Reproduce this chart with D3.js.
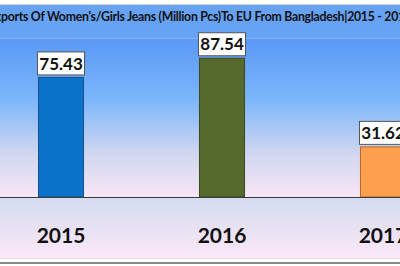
<!DOCTYPE html>
<html>
<head>
<meta charset="utf-8">
<script src="https://cdn.jsdelivr.net/npm/d3@7"></script>
<style>
  html, body { margin: 0; padding: 0; background: #fff; }
  svg { display: block; }
</style>
</head>
<body>
<div id="chart"></div>
<script>
// chart data
const years = ["2015", "2016", "2017"];
const values = [75.43, 87.54, 31.62];
const barColors = ["#0a72c8", "#566a2e", "#fca04e"];
const barStrokes = ["#1d4f86", "#3b4820", "#b5682c"];
const titleText = "Exports Of Women's/Girls Jeans (Million Pcs)To EU From Bangladesh|2015 - 2017";

const size = {width: 400, height: 266};
const plot = {top: 38.5, bottom: 197};

const svg = d3.select("#chart").append("svg")
    .attr("width", size.width)
    .attr("height", size.height);

const defs = svg.append("defs");
const gPlot = defs.append("linearGradient")
    .attr("id", "plotGrad").attr("x1", 0).attr("y1", 0).attr("x2", 0).attr("y2", 1);
gPlot.append("stop").attr("offset", "0%").attr("stop-color", "#5a98f6");
gPlot.append("stop").attr("offset", "38%").attr("stop-color", "#7bb6fb");
gPlot.append("stop").attr("offset", "72%").attr("stop-color", "#cfd6f0");
gPlot.append("stop").attr("offset", "100%").attr("stop-color", "#f8e6f6");

const gAxis = defs.append("linearGradient")
    .attr("id", "axisGrad").attr("x1", 0).attr("y1", 0).attr("x2", 0).attr("y2", 1);
gAxis.append("stop").attr("offset", "0%").attr("stop-color", "#d3dbef");
gAxis.append("stop").attr("offset", "100%").attr("stop-color", "#fbe8f7");

// backgrounds
svg.append("line")
    .attr("x1", 0).attr("x2", size.width).attr("y1", 4.5).attr("y2", 4.5)
    .attr("stroke", "#d4d4d4").attr("stroke-width", 1);
svg.append("rect")
    .attr("x", 0).attr("y", 5).attr("width", size.width).attr("height", plot.top - 5)
    .attr("fill", "#66a3f5");
svg.append("rect")
    .attr("x", 0).attr("y", plot.top).attr("width", size.width).attr("height", plot.bottom - plot.top)
    .attr("fill", "url(#plotGrad)");
svg.append("rect")
    .attr("x", 0).attr("y", plot.bottom).attr("width", size.width).attr("height", 258 - plot.bottom)
    .attr("fill", "url(#axisGrad)");
svg.append("line")
    .attr("x1", 0).attr("x2", size.width).attr("y1", 258.5).attr("y2", 258.5)
    .attr("stroke", "#e2e2e2").attr("stroke-width", 1);
svg.append("line")
    .attr("x1", 0).attr("x2", size.width).attr("y1", 263).attr("y2", 263)
    .attr("stroke", "#8a8a8a").attr("stroke-width", 2);

// title
svg.append("text")
    .attr("x", size.width / 2)
    .attr("y", 20.5)
    .attr("text-anchor", "middle")
    .attr("font-family", "Lato, 'Open Sans', sans-serif")
    .attr("font-weight", "bold")
    .attr("font-size", 12.3)
    .attr("fill", "#111")
    .attr("textLength", 424)
    .attr("lengthAdjust", "spacing")
    .text(titleText);

// scales
const x = d3.scaleBand()
    .domain(years)
    .range([-19.5, 463.5])
    .paddingInner(0.714)
    .paddingOuter(0.357);

const y = d3.scaleLinear()
    .domain([0, 100])
    .range([plot.bottom, plot.top]);

const data = years.map((yr, i) => ({year: yr, value: values[i], color: barColors[i], stroke: barStrokes[i]}));

// bars
svg.append("g").selectAll("rect")
    .data(data)
    .join("rect")
    .attr("x", d => x(d.year) + 0.5)
    .attr("y", d => y(d.value))
    .attr("width", x.bandwidth() - 1)
    .attr("height", d => y(0) - y(d.value))
    .attr("fill", d => d.color)
    .attr("stroke", d => d.stroke)
    .attr("stroke-width", 1);

// baseline
svg.append("line")
    .attr("x1", 0).attr("x2", size.width)
    .attr("y1", y(0) + 0.5).attr("y2", y(0) + 0.5)
    .attr("stroke", "#3a3a3a").attr("stroke-width", 1.2);

// value labels
const labels = svg.append("g").selectAll("g")
    .data(data)
    .join("g")
    .attr("transform", d => "translate(" + (x(d.year) + x.bandwidth() / 2) + "," + (y(d.value) - 14) + ")");
labels.append("rect")
    .attr("x", -x.bandwidth() / 2 - 0.5)
    .attr("y", -11.5)
    .attr("width", x.bandwidth() + 1)
    .attr("height", 23)
    .attr("fill", "#fff")
    .attr("stroke", "#555")
    .attr("stroke-width", 1);
labels.append("text")
    .attr("text-anchor", "middle")
    .attr("dy", "0.36em")
    .attr("font-family", "Lato, 'Open Sans', sans-serif")
    .attr("font-weight", "bold")
    .attr("font-size", 17)
    .attr("fill", "#111")
    .text(d => d.value.toFixed(2));

// x axis labels
const xAxis = d3.axisBottom(x).tickSize(0).tickPadding(0);
svg.append("g")
    .attr("transform", "translate(0," + 243 + ")")
    .call(xAxis)
    .call(g => g.select(".domain").remove())
    .call(g => g.selectAll("text")
        .attr("dy", 0)
        .attr("y", 0)
        .attr("font-family", "Lato, 'Open Sans', sans-serif")
        .attr("font-weight", "bold")
        .attr("font-size", 21)
        .attr("fill", "#111"));
</script>
</body>
</html>
